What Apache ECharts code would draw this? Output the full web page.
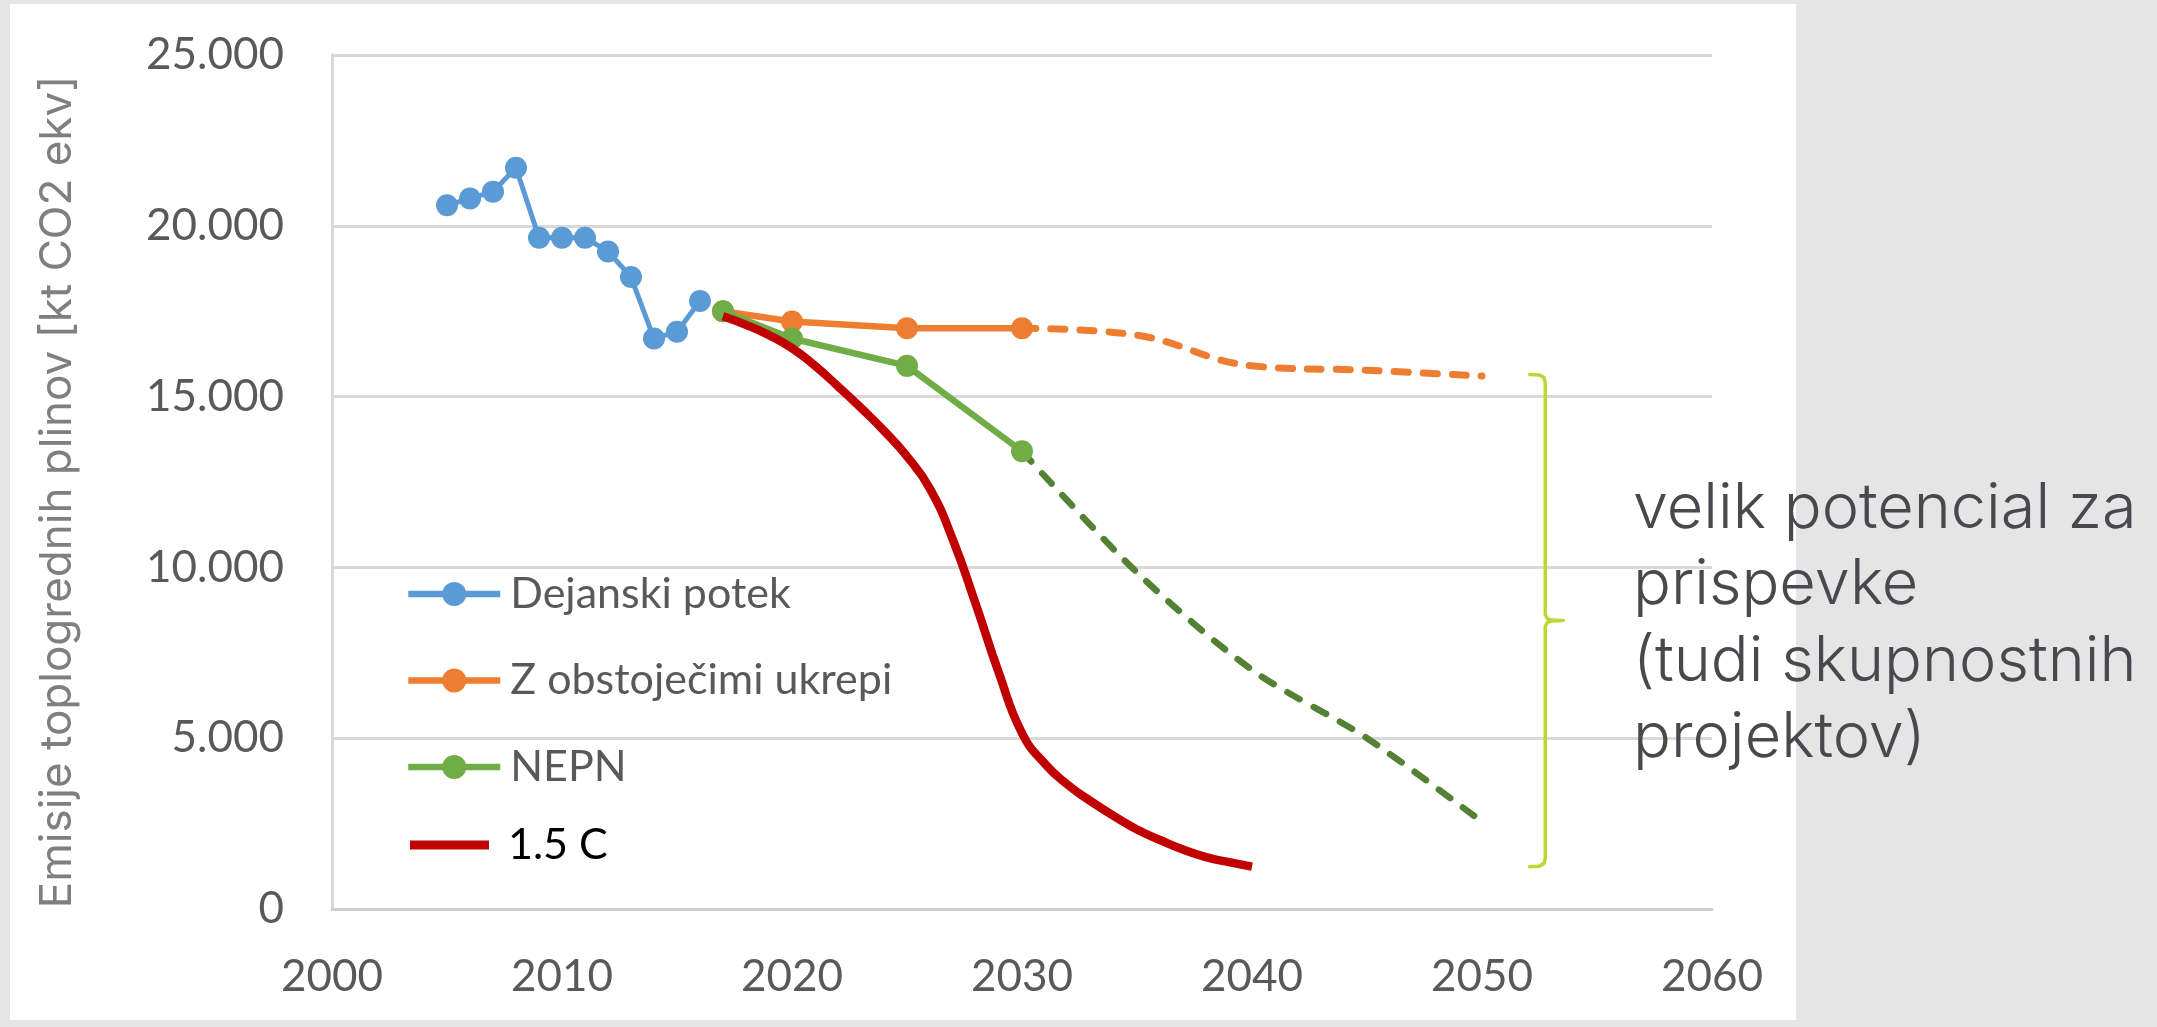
<!DOCTYPE html>
<html>
<head>
<meta charset="utf-8">
<script src="https://cdn.jsdelivr.net/npm/echarts@6/dist/echarts.min.js"></script>
<style>
  html, body { margin: 0; padding: 0; background: #e5e5e5; }
  #chart { width: 2157px; height: 1027px; }
</style>
</head>
<body>
<div id="chart"></div>
<script>
// ---- data ----
const actualYears = [2005, 2006, 2007, 2008, 2009, 2010, 2011, 2012, 2013, 2014, 2015, 2016];
const actualValues = [20600, 20800, 21000, 21700, 19650, 19650, 19650, 19250, 18500, 16700, 16900, 17800];

const wemYears = [2017, 2020, 2025, 2030];
const wemValues = [17500, 17200, 17000, 17000];
const wemProjYears = [2030, 2035, 2040, 2045, 2050];
const wemProjValues = [17000, 16800, 15900, 15770, 15600];

const nepnYears = [2017, 2020, 2025, 2030];
const nepnValues = [17500, 16700, 15900, 13400];
const nepnProjYears = [2030, 2035, 2040, 2045, 2050];
const nepnProjValues = [13400, 9850, 7000, 5000, 2550];

const c15Years = [2017, 2018, 2019, 2020, 2021, 2022, 2023, 2024, 2025, 2026, 2027, 2028,
                  2029, 2030, 2031, 2032, 2033, 2034, 2035, 2036, 2037, 2038, 2039, 2040];
const c15Values = [17350, 17100, 16800, 16420, 15900, 15300, 14670, 14000, 13250, 12300, 10800, 8900,
                   6900, 5150, 4250, 3630, 3150, 2720, 2330, 2020, 1740, 1520, 1370, 1240];

const seriesNames = ['Dejanski potek', 'Z obstoječimi ukrepi', 'NEPN', '1.5 C'];
const yAxisTitle = 'Emisije toplogrednih plinov [kt CO2 ekv]';
const annotationLines = ['velik potencial za', 'prispevke', '(tudi skupnostnih', 'projektov)'];
const bracketYear = 2052.75;
const bracketTop = 15650;
const bracketBottom = 1240;

const zip = (xs, ys) => xs.map((x, i) => [x, ys[i]]);
const fmtY = v => String(v).replace(/\B(?=(\d{3})+(?!\d))/g, '.');

const LABEL_FONT = 'Lato, "Liberation Sans", sans-serif';
const TITLE_FONT = 'Inter, "Open Sans", sans-serif';

const chart = echarts.init(document.getElementById('chart'), null, { renderer: 'canvas' });

const option = {
  backgroundColor: 'transparent',
  animation: false,
  grid: { left: 332, right: 445, top: 55, bottom: 118, containLabel: false },
  xAxis: {
    type: 'value', min: 2000, max: 2060, interval: 10,
    axisLine: { show: true, lineStyle: { color: '#d0d0d0', width: 3 } },
    axisTick: { show: false },
    splitLine: { show: false },
    axisLabel: { margin: 46, fontSize: 44, color: '#595959', fontFamily: LABEL_FONT, formatter: v => String(v) }
  },
  yAxis: {
    type: 'value', min: 0, max: 25000, interval: 5000,
    axisLine: { show: true, lineStyle: { color: '#d9d9d9', width: 3 } },
    axisTick: { show: false },
    splitLine: { show: true, lineStyle: { color: '#d9d9d9', width: 3 } },
    axisLabel: { margin: 48, fontSize: 44, color: '#595959', fontFamily: LABEL_FONT, formatter: fmtY },
    name: yAxisTitle, nameLocation: 'middle', nameGap: 252, nameRotate: 90,
    nameTextStyle: { fontFamily: TITLE_FONT, fontSize: 44, color: '#7f7f7f', fontWeight: 400, padding: [0, 20, 0, 0] }
  },
  legend: [
    {
      orient: 'vertical', left: 405, top: 569, padding: 0,
      itemWidth: 92, itemHeight: 30, itemGap: 36.5,
      data: seriesNames.slice(0, 3),
      lineStyle: { width: 6.5 },
      textStyle: { fontFamily: LABEL_FONT, fontSize: 43, color: '#595959', lineHeight: 50, padding: [0, 0, 0, 5] }
    },
    {
      orient: 'vertical', left: 410, top: 820, padding: 0,
      itemWidth: 79, itemHeight: 9,
      data: [{ name: seriesNames[3], icon: 'rect' }],
      textStyle: { fontFamily: LABEL_FONT, fontSize: 43, color: '#000000', lineHeight: 50, padding: [0, 0, 0, 14] }
    }
  ],
  series: [
    {
      name: seriesNames[0], type: 'line', data: zip(actualYears, actualValues),
      symbol: 'circle', symbolSize: 22,
      itemStyle: { color: '#5B9BD5' }, lineStyle: { color: '#5B9BD5', width: 5 }, z: 3
    },
    {
      name: seriesNames[1], type: 'line', data: zip(wemYears, wemValues),
      symbol: 'circle', symbolSize: 22,
      itemStyle: { color: '#ED7D31' }, lineStyle: { color: '#ED7D31', width: 6.5 }, z: 4
    },
    {
      name: 'wem-proj', type: 'line', data: zip(wemProjYears, wemProjValues),
      symbol: 'none', smooth: 0.4,
      lineStyle: { color: '#ED7D31', width: 7, type: [14, 15], cap: 'round' }, z: 4
    },
    {
      name: seriesNames[2], type: 'line', data: zip(nepnYears, nepnValues),
      symbol: 'circle', symbolSize: 22,
      itemStyle: { color: '#70AD47' }, lineStyle: { color: '#70AD47', width: 6.5 }, z: 5
    },
    {
      name: 'nepn-proj', type: 'line', data: zip(nepnProjYears, nepnProjValues),
      symbol: 'none', smooth: 0.3,
      lineStyle: { color: '#548235', width: 6.5, type: [14, 16], cap: 'round' }, z: 5
    },
    {
      name: seriesNames[3], type: 'line', data: zip(c15Years, c15Values),
      symbol: 'none', smooth: 0.5,
      itemStyle: { color: '#C00000' }, lineStyle: { color: '#C00000', width: 8.5 }, z: 6
    }
  ]
};

chart.setOption(option);

// decorations: white panel, bracket and annotation text
const pTop = chart.convertToPixel({ gridIndex: 0 }, [bracketYear, bracketTop]);
const pBot = chart.convertToPixel({ gridIndex: 0 }, [bracketYear, bracketBottom]);
const bx = pTop[0], yT = pTop[1], yB = pBot[1], yM = (yT + yB) / 2;
const bracketPoints = [
  [bx - 17, yT], [bx - 6, yT + 0.5], [bx - 1.5, yT + 3], [bx, yT + 8],
  [bx, yM - 6], [bx + 2, yM - 2], [bx + 6, yM - 0.5], [bx + 18, yM],
  [bx + 6, yM + 0.5], [bx + 2, yM + 2], [bx, yM + 6],
  [bx, yB - 8], [bx - 1.5, yB - 3], [bx - 6, yB - 0.5], [bx - 17, yB]
];

const graphics = [
  { type: 'rect', z: -100, silent: true, shape: { x: 10, y: 4, width: 1786, height: 1016 }, style: { fill: '#ffffff' } },
  { type: 'polyline', z: 10, silent: true, shape: { points: bracketPoints }, style: { fill: null, stroke: '#BFD630', lineWidth: 3.5, lineJoin: 'round' } }
];
annotationLines.forEach((t, i) => {
  graphics.push({
    type: 'text', z: 10, silent: true, x: 1633, y: 509 + i * 76.5,
    style: { text: t, fontFamily: TITLE_FONT, fontSize: 63, fontWeight: 300, fill: '#48484d', verticalAlign: 'middle' }
  });
});
chart.setOption({ graphic: graphics });
</script>
</body>
</html>
